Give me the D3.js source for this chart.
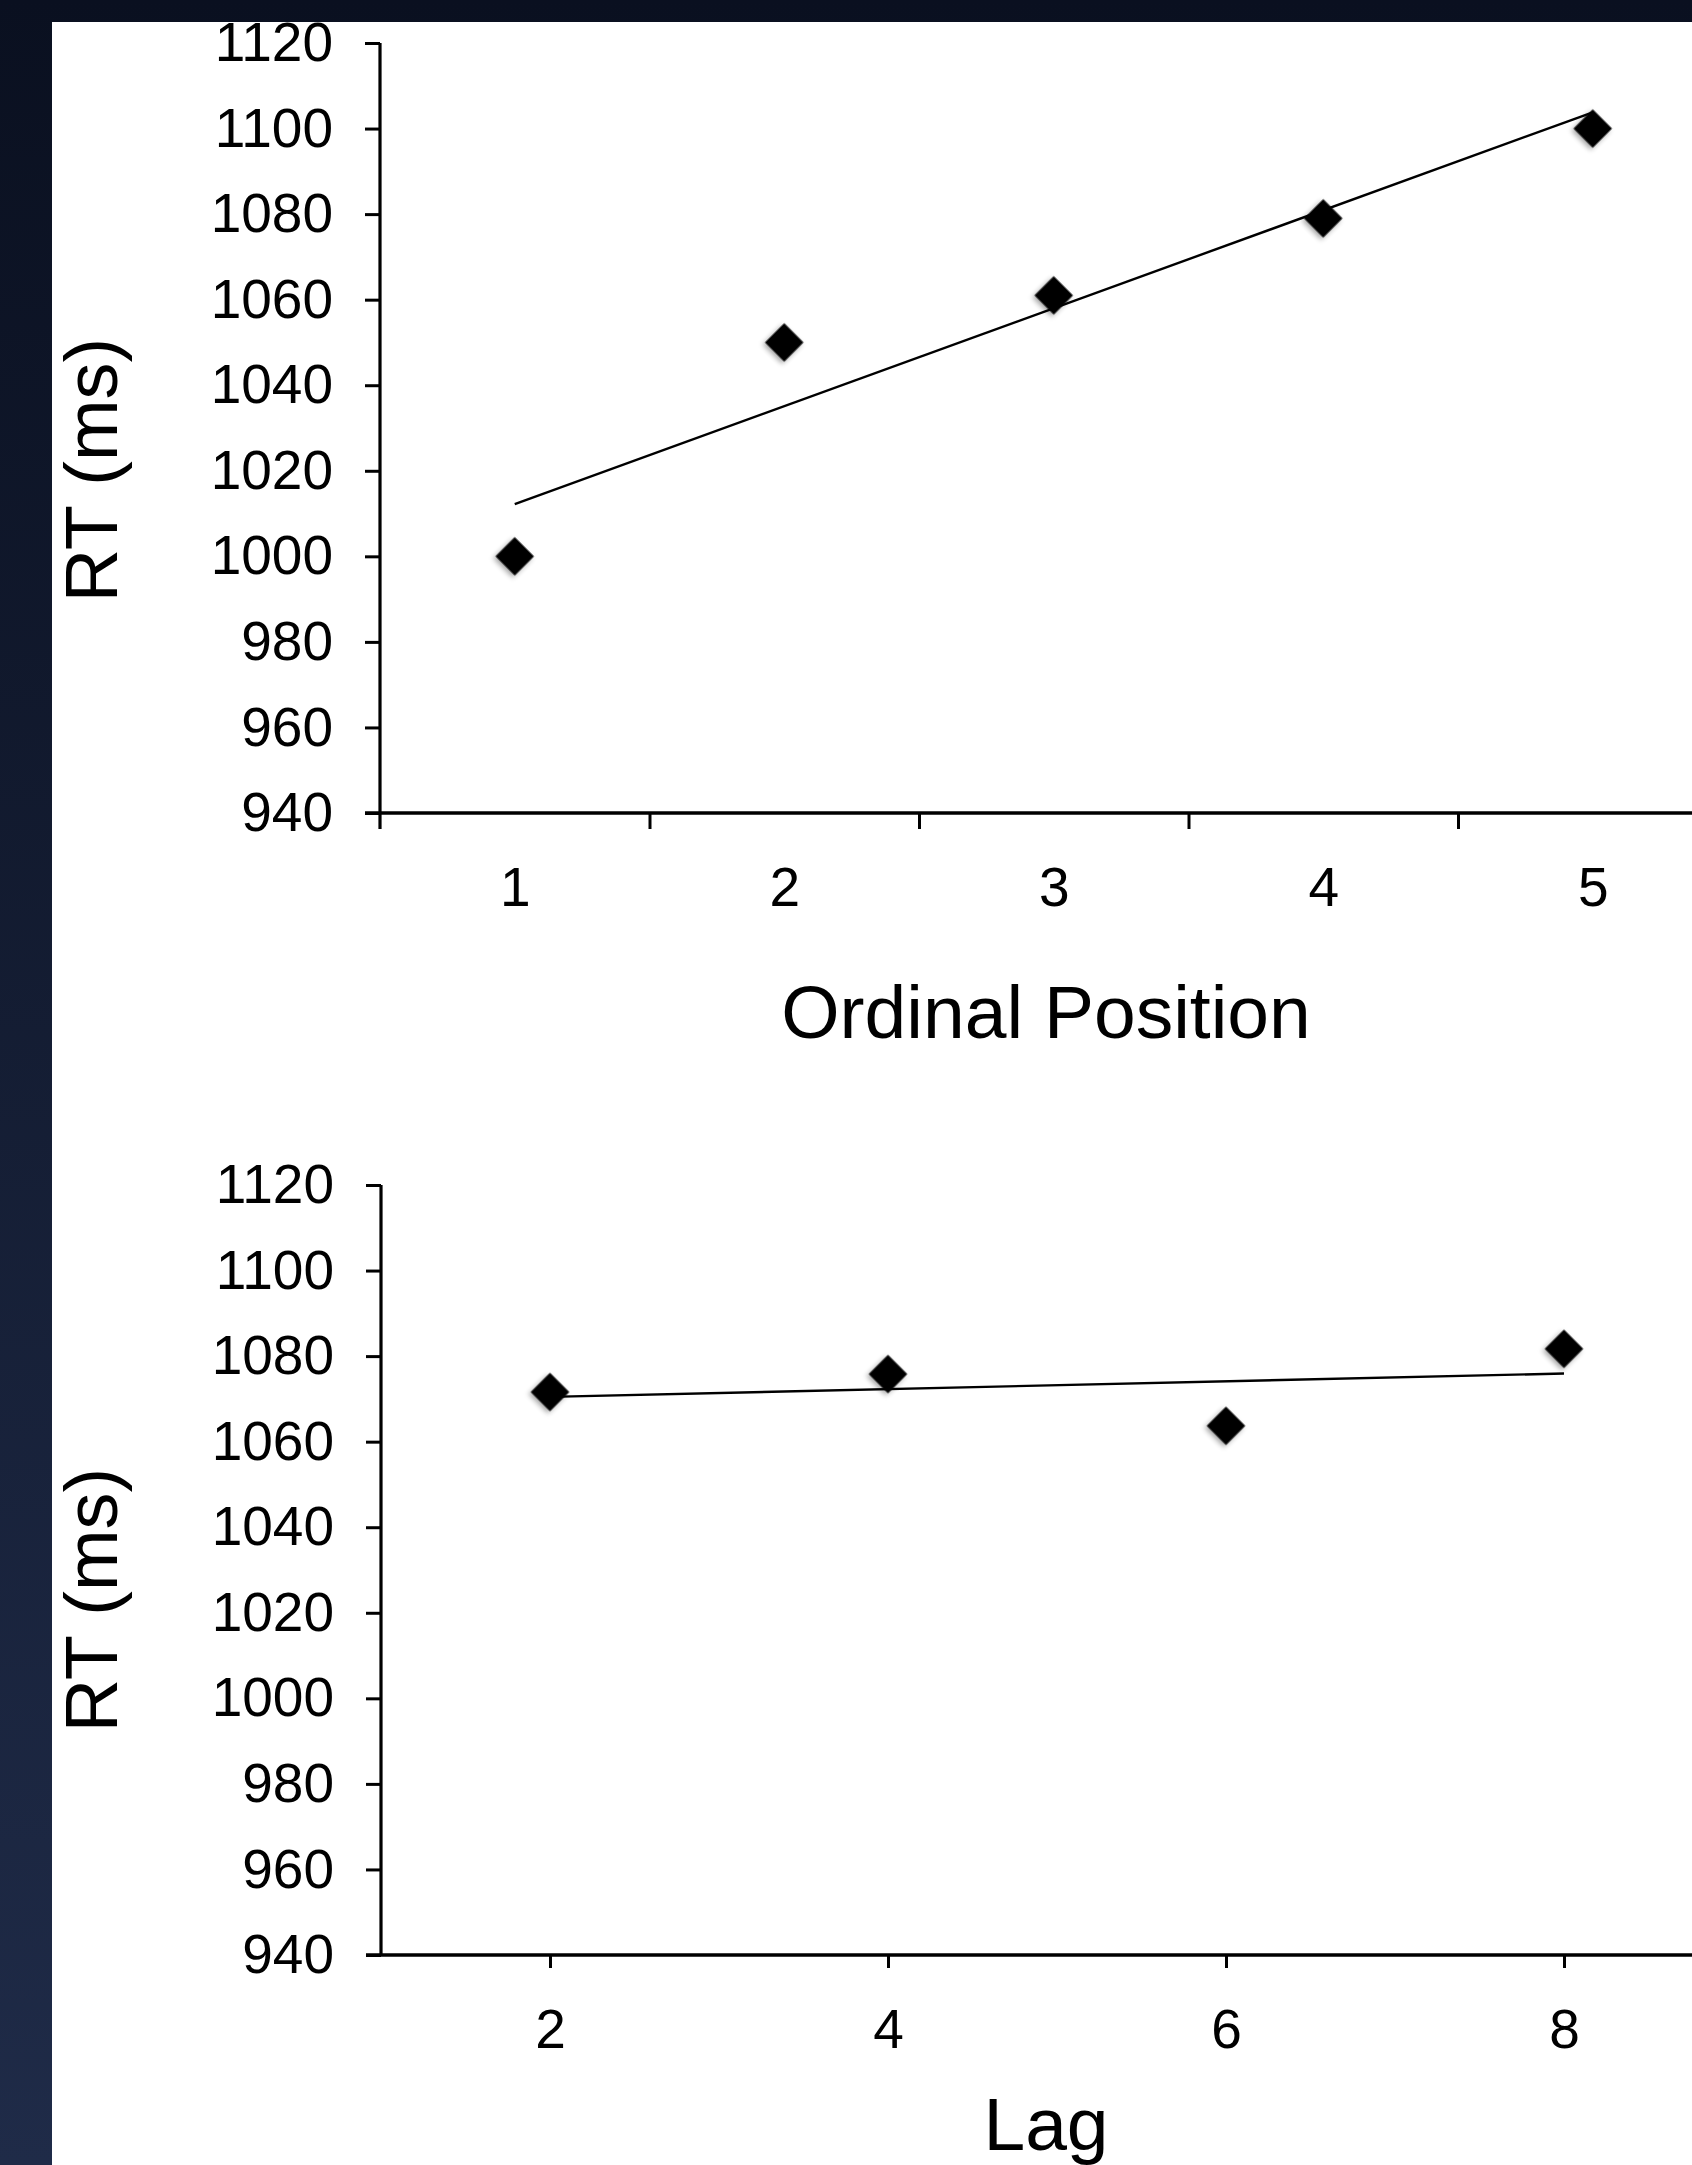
<!DOCTYPE html>
<html><head><meta charset="utf-8">
<script src="https://cdn.jsdelivr.net/npm/d3@7"></script>
<style>html,body{margin:0;padding:0;background:#0b1222;} svg{display:block}</style>
</head><body><svg id="c" width="1692" height="2165"></svg>
<script>
// ---- data ----
const yTickValues = [940, 960, 980, 1000, 1020, 1040, 1060, 1080, 1100, 1120];
const ordinalPositions = [1, 2, 3, 4, 5];
const ordinalRT = [1000, 1050, 1061, 1079, 1100];
const lagValues = [2, 4, 6, 8];
const lagRT = [1071.6, 1075.8, 1063.7, 1081.7];
const yTitle = "RT (ms)";
const xTitleTop = "Ordinal Position";
const xTitleBottom = "Lag";

// ---- setup ----
const W = 1692, H = 2165;
const svg = d3.select("#c");
const FONT = "'Liberation Sans', Arial, Helvetica, sans-serif";

const defs = svg.append("defs");
const grad = defs.append("linearGradient").attr("id", "bg").attr("x1", 0).attr("y1", 0).attr("x2", 0).attr("y2", 1);
grad.append("stop").attr("offset", "0%").attr("stop-color", "#0a1020");
grad.append("stop").attr("offset", "100%").attr("stop-color", "#1f2b48");
const f = defs.append("filter").attr("id", "shadow").attr("x", "-50%").attr("y", "-50%").attr("width", "200%").attr("height", "200%");
f.append("feDropShadow").attr("dx", 0).attr("dy", 3).attr("stdDeviation", 2.5)
  .attr("flood-color", "#000").attr("flood-opacity", 0.35);

svg.append("rect").attr("width", W).attr("height", H).attr("fill", "url(#bg)");
svg.append("rect").attr("x", 52).attr("y", 22).attr("width", W - 52).attr("height", H - 22).attr("fill", "#fff");

function linFit(xs, ys) {
  const n = xs.length, mx = d3.mean(xs), my = d3.mean(ys);
  let num = 0, den = 0;
  for (let i = 0; i < n; i++) { num += (xs[i] - mx) * (ys[i] - my); den += (xs[i] - mx) ** 2; }
  const b = num / den, a = my - b * mx;
  return x => a + b * x;
}

const diamond = d3.symbol().type(d3.symbolSquare).size(740);

function panel(opts) {
  const g = svg.append("g");
  const { x, y, xs, ys, xLabelVals, xTickVals, xTickSize, yAxisExt, xTitle, xTitleY, yTitleY } = opts;
  const [y0, y1] = y.range(); // bottom, top
  const ax0 = x.range()[0];

  // y axis ticks + labels
  const yAxis = d3.axisLeft(y).tickValues(yTickValues).tickSize(15).tickPadding(32).tickSizeOuter(0).tickFormat(d3.format("d"));
  const yg = g.append("g").attr("transform", `translate(${ax0},0)`).call(yAxis);
  yg.select(".domain").remove();
  yg.selectAll(".tick line").attr("stroke", "#000").attr("stroke-width", 3);
  yg.selectAll(".tick text").attr("font-family", FONT).attr("font-size", 55).attr("fill", "#000");

  // x axis ticks
  const xAxis = d3.axisBottom(x).tickValues(xTickVals).tickSize(xTickSize).tickFormat("").tickSizeOuter(0);
  const xg = g.append("g").attr("transform", `translate(0,${y0})`).call(xAxis);
  xg.select(".domain").remove();
  xg.selectAll(".tick line").attr("stroke", "#000").attr("stroke-width", 3);

  // x labels
  const xl = d3.axisBottom(x).tickValues(xLabelVals).tickSize(0).tickPadding(54).tickFormat(d3.format("d"));
  const xlg = g.append("g").attr("transform", `translate(0,${y0})`).call(xl);
  xlg.select(".domain").remove();
  xlg.selectAll(".tick text").attr("font-family", FONT).attr("font-size", 55).attr("fill", "#000");

  // axis lines
  g.append("line").attr("x1", ax0).attr("x2", ax0).attr("y1", y1).attr("y2", y0 + yAxisExt)
    .attr("stroke", "#000").attr("stroke-width", 3.2);
  g.append("line").attr("x1", ax0 - 15).attr("x2", W).attr("y1", y0).attr("y2", y0)
    .attr("stroke", "#000").attr("stroke-width", 3.4);

  // trend line
  const fit = linFit(xs, ys);
  const xmin = d3.min(xs), xmax = d3.max(xs);
  g.append("line")
    .attr("x1", x(xmin)).attr("y1", y(fit(xmin)))
    .attr("x2", x(xmax)).attr("y2", y(fit(xmax)))
    .attr("stroke", "#000").attr("stroke-width", 2.4);

  // markers
  g.append("g").selectAll("path").data(xs.map((d, i) => [d, ys[i]])).join("path")
    .attr("d", diamond)
    .attr("transform", d => `translate(${x(d[0])},${y(d[1])}) rotate(45)`)
    .attr("fill", "#000").attr("filter", "url(#shadow)");

  // titles
  g.append("text").attr("x", 1046).attr("y", xTitleY).attr("text-anchor", "middle")
    .attr("font-family", FONT).attr("font-size", 75).attr("fill", "#000").text(xTitle);
  g.append("text").attr("transform", `translate(117,${yTitleY}) rotate(-90)`).attr("text-anchor", "middle")
    .attr("font-family", FONT).attr("font-size", 74).attr("fill", "#000").text(yTitle);
}

// top panel
const yTop = d3.scaleLinear().domain([940, 1120]).range([813, 43]);
const xTop = d3.scaleLinear().domain([0.5, 5.5]).range([380, 380 + 5 * 269.5]);
panel({
  x: xTop, y: yTop, xs: ordinalPositions, ys: ordinalRT,
  xLabelVals: ordinalPositions, xTickVals: [1.5, 2.5, 3.5, 4.5, 5.5], xTickSize: 16, yAxisExt: 16,
  xTitle: xTitleTop, xTitleY: 1038, yTitleY: 470
});

// bottom panel
const yBot = d3.scaleLinear().domain([940, 1120]).range([1955, 1185]);
const xBot = d3.scaleLinear().domain([1, 9]).range([381, 381 + 8 * 169]);
panel({
  x: xBot, y: yBot, xs: lagValues, ys: lagRT,
  xLabelVals: lagValues, xTickVals: lagValues, xTickSize: 13, yAxisExt: 0,
  xTitle: xTitleBottom, xTitleY: 2150, yTitleY: 1600
});
</script>
</body></html>
